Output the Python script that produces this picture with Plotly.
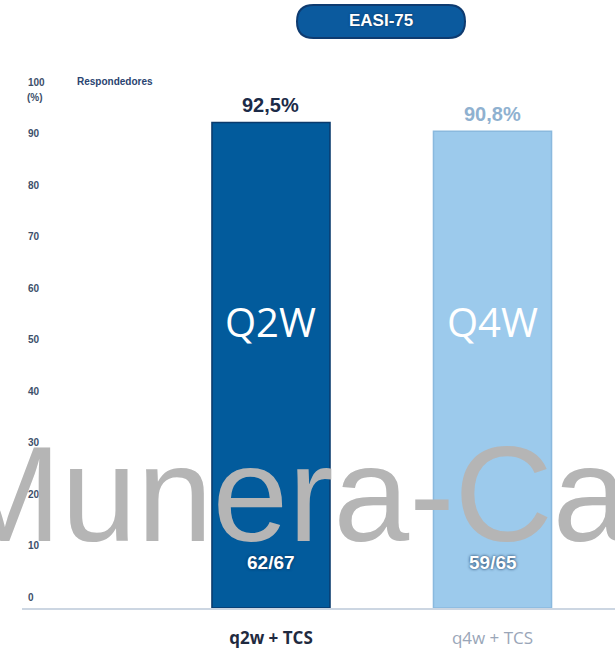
import plotly.graph_objects as go

# ---- data ----
categories = ["q2w + TCS", "q4w + TCS"]
responders_pct = [92.5, 90.8]
pct_labels = ["92,5%", "90,8%"]
counts = ["62/67", "59/65"]
dose_labels = ["Q2W", "Q4W"]
y_ticks = [0, 10, 20, 30, 40, 50, 60, 70, 80, 90, 100]
title_text = "EASI-75"
watermark = "Munera-Campos"

# ---- styles ----
fill_colors = ["#025b9c", "#9ccaec"]
edge_colors = ["#0a3a6c", "#8ab9de"]
pct_colors = ["#1c2b48", "#8fb1d0"]
cat_colors = ["#1f2a40", "#9aa6b8"]

W, H = 615, 649
L, R, T, B = 22, 0, 70, 41
PW, PH = W - L - R, H - T - B
BAR_PX_PER_UNIT = 5.25     # bar scale
LABEL_PX_PER_UNIT = 5.15   # tick label spacing in the reference


def px(x):
    return (x - L) / PW


def py(y):
    return (H - B - y) / PH


fig = go.Figure()
fig.add_trace(go.Bar(
    x=categories, y=responders_pct, width=0.533,
    marker=dict(color=fill_colors, line=dict(color=edge_colors, width=1.5)),
    hoverinfo="skip", cliponaxis=False,
))
# invisible trace so the label axis is drawn
fig.add_trace(go.Scatter(x=[categories[0]], y=[0], yaxis="y2", mode="markers",
                         marker=dict(opacity=0), hoverinfo="skip", showlegend=False))

ann = []
for i, c in enumerate(categories):
    ann.append(dict(x=c, y=responders_pct[i], text=pct_labels[i], showarrow=False,
                    yanchor="middle", yshift=17,
                    font=dict(family="Liberation Sans", size=20, color=pct_colors[i], weight="bold")))
    ann.append(dict(x=c, y=8.7, text=counts[i], showarrow=False, yanchor="middle",
                    font=dict(family="Liberation Sans", size=19, color="white", weight="bold",
                              shadow="0px 0px 3px #0a2a50")))
    ann.append(dict(x=c, y=54.5, text=dose_labels[i], showarrow=False, yanchor="middle",
                    font=dict(family="Open Sans", size=40, color="white")))

ann.append(dict(xref="paper", yref="paper", x=px(75), y=py(82), text="Respondedores",
                showarrow=False, xanchor="left", yanchor="middle",
                font=dict(family="Liberation Sans", size=10, color="#2a4470", weight="bold")))
ann.append(dict(xref="paper", yref="paper", x=px(25), y=py(98), text="(%)",
                showarrow=False, xanchor="left", yanchor="middle",
                font=dict(family="Liberation Sans", size=10, color="#3d4f6a", weight="bold")))
ann.append(dict(xref="paper", yref="paper", x=px(381), y=py(21), text=title_text,
                showarrow=False, xanchor="center", yanchor="middle",
                font=dict(family="Liberation Sans", size=17, color="white", weight="bold",
                          shadow="0px 0px 2px #0a2a50")))
ann.append(dict(xref="paper", yref="paper", x=px(-54), y=py(494), text=watermark,
                showarrow=False, xanchor="left", yanchor="middle",
                font=dict(family="Liberation Sans", size=136, color="#b5b5b5")))

# rounded pill behind title
x0, x1, y0, y1 = 297, 465, 5, 38
r = (y1 - y0) / 2
path = (f"M {px(x0 + r)} {py(y0)} L {px(x1 - r)} {py(y0)} "
        f"Q {px(x1)} {py(y0)} {px(x1)} {py(y0 + r)} "
        f"Q {px(x1)} {py(y1)} {px(x1 - r)} {py(y1)} "
        f"L {px(x0 + r)} {py(y1)} "
        f"Q {px(x0)} {py(y1)} {px(x0)} {py(y0 + r)} "
        f"Q {px(x0)} {py(y0)} {px(x0 + r)} {py(y0)} Z")

fig.update_layout(
    width=W, height=H, margin=dict(l=L, r=R, t=T, b=B),
    paper_bgcolor="white", plot_bgcolor="white", showlegend=False,
    annotations=ann,
    shapes=[dict(type="path", xref="paper", yref="paper", path=path,
                 fillcolor="#0b5a9e", line=dict(color="#0e3b70", width=2), layer="below")],
    xaxis=dict(range=[-1.124, 1.553], tickvals=categories,
               ticktext=[f"<span style='color:{cat_colors[0]}'><b>{categories[0]}</b></span>",
                         f"<span style='color:{cat_colors[1]}'>{categories[1]}</span>"],
               tickfont=dict(family="Open Sans", size=17),
               showline=True, linecolor="#ccd6e2", linewidth=2, ticks="", showgrid=False,
               zeroline=False, ticklabelstandoff=14),
    yaxis=dict(range=[0, PH / BAR_PX_PER_UNIT], showticklabels=False,
               showgrid=False, zeroline=False, showline=False, ticks=""),
    yaxis2=dict(range=[0, PH / LABEL_PX_PER_UNIT], overlaying="y", side="left", anchor="x",
                tickvals=y_ticks, ticklabelposition="inside", ticklabelshift=-11,
                tickfont=dict(family="Liberation Sans", size=10, color="#3d4f6a", weight="bold"),
                showgrid=False, zeroline=False, showline=False, ticks="",
                ticklabelstandoff=3),
)

fig.write_html("out.html", config={"displayModeBar": False},
               post_script="document.body.style.margin='0';document.body.style.overflow='hidden';")
